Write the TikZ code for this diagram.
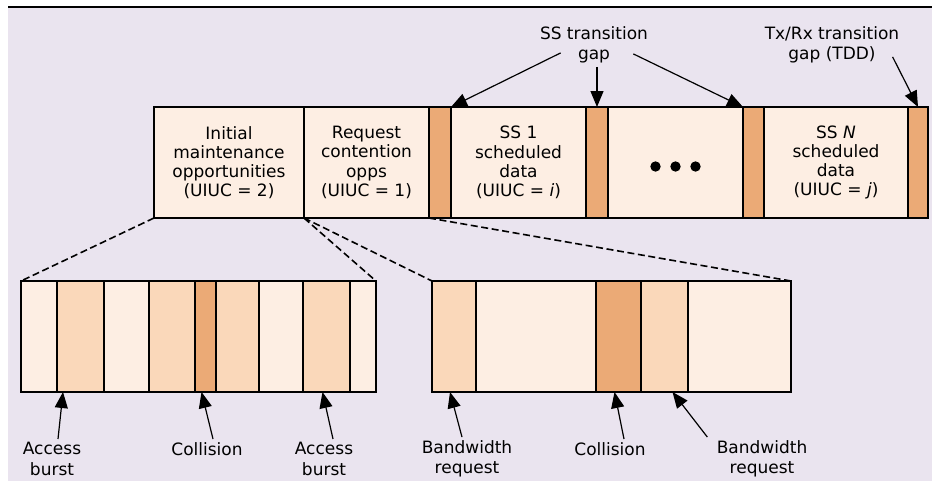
\documentclass[tikz,border=0pt]{standalone}
\usepackage{fontspec}
\setmainfont{DejaVu Sans}
\usepackage{xcolor}
\usepackage{tikz}
\usetikzlibrary{arrows.meta,positioning}

\definecolor{bgpurple}{HTML}{EAE4EF}
\definecolor{segpale}{HTML}{FDEEE3}
\definecolor{segmid}{HTML}{FAD8BA}
\definecolor{segdark}{HTML}{EBAA76}

\begin{document}
\begin{tikzpicture}[
  x=0.5pt, y=-0.5pt,
  font=\fontsize{8.5}{9.6}\selectfont,
  seg/.style={draw, line width=0.9pt, inner sep=0pt, outer sep=0pt,
              align=center, minimum height=55.5pt},
  palebox/.style={seg, fill=segpale},
  midbox/.style={seg, fill=segmid},
  darkbox/.style={seg, fill=segdark, minimum width=11pt},
  lbl/.style={align=center, inner sep=1.5pt, font=\fontsize{8.5}{10.3}\selectfont},
  arrow/.style={-{Triangle[length=8pt,width=6.5pt]}, line width=0.6pt},
  zoomline/.style={line width=0.8pt, dash pattern=on 3.5pt off 1.8pt}
]
\useasboundingbox (0,0) rectangle (932,483);
\fill[bgpurple] (8,8) rectangle (932,481);
\draw[line width=1pt] (8,7) -- (932,7);

% frame
\node[palebox, minimum width=75pt, anchor=north west] (initmaint) at (154,107)
  {Initial\\maintenance\\opportunities\\(UIUC = 2)};
\node[palebox, minimum width=62.5pt, right=0pt of initmaint] (reqopps)
  {Request\\contention\\opps\\(UIUC = 1)};
\node[darkbox, right=0pt of reqopps] (gapA) {};
\node[palebox, minimum width=67.5pt, right=0pt of gapA] (ssone)
  {SS 1\\scheduled\\data\\(UIUC = \textit{i})};
\node[darkbox, right=0pt of ssone] (gapB) {};
\node[palebox, minimum width=67.5pt, right=0pt of gapB] (dots) {};
\node[darkbox, minimum width=10.5pt, right=0pt of dots] (gapC) {};
\node[palebox, minimum width=72pt, right=0pt of gapC] (ssn)
  {SS \textit{N}\\scheduled\\data\\(UIUC = \textit{j})};
\node[darkbox, minimum width=10pt, right=0pt of ssn] (gapD) {};
\foreach \dx in {-20,0,20}
  \fill (dots.center) ++(\dx,4) circle (2.6pt);

% initial maintenance slots
\node[palebox, minimum width=18pt, anchor=north west] (ima) at (21,281) {};
\node[midbox, minimum width=23.5pt, right=0pt of ima] (imb) {};
\node[palebox, minimum width=22.5pt, right=0pt of imb] (imc) {};
\node[midbox, minimum width=23pt, right=0pt of imc] (imd) {};
\node[darkbox, minimum width=10.5pt, right=0pt of imd] (ime) {};
\node[midbox, minimum width=21.5pt, right=0pt of ime] (imf) {};
\node[palebox, minimum width=22pt, right=0pt of imf] (img) {};
\node[midbox, minimum width=23.5pt, right=0pt of img] (imh) {};
\node[palebox, minimum width=13pt, right=0pt of imh] (imi) {};

% request contention slots
\node[midbox, minimum width=22pt, anchor=north west] (rca) at (432,281) {};
\node[palebox, minimum width=60pt, right=0pt of rca] (rcb) {};
\node[darkbox, minimum width=22.5pt, right=0pt of rcb] (rcc) {};
\node[midbox, minimum width=23.5pt, right=0pt of rcc] (rcd) {};
\node[palebox, minimum width=51.5pt, right=0pt of rcd] (rce) {};

\draw[zoomline] (initmaint.south west) -- (ima.north west);
\draw[zoomline] (initmaint.south east) -- (imi.north east);
\draw[zoomline] (initmaint.south east) -- (rca.north west);
\draw[zoomline] (reqopps.south east) -- (rce.north east);

% labels
\node[lbl] (ssgap) at (594,45) {SS transition\\gap};
\node[lbl] (txrxgap) at (832,45) {Tx/Rx transition\\gap (TDD)};
\node[lbl] (burstA) at (52,459) {Access\\burst};
\node[lbl] (collA) at (207,449) {Collision};
\node[lbl] (burstB) at (324,459) {Access\\burst};
\node[lbl] (bwreqA) at (467,459) {Bandwidth\\request};
\node[lbl] (collB) at (610,449) {Collision};
\node[lbl] (bwreqB) at (762,459) {Bandwidth\\request};

\draw[arrow] ([shift={(12pt,7pt)}]ssgap.south west) -- (gapA.north east);
\draw[arrow] (ssgap.south -| gapB.north) -- (gapB.north);
\draw[arrow] ([shift={(-9pt,6.5pt)}]ssgap.south east) -- (gapC.north west);
\draw[arrow] ([shift={(-5pt,5pt)}]txrxgap.south east) -- (gapD.north);
\draw[arrow] ([xshift=3pt]burstA.north) -- ([xshift=3pt]imb.south west);
\draw[arrow] ([xshift=3pt]collA.north) -- ([xshift=-2pt]ime.south);
\draw[arrow] ([xshift=4.5pt]burstB.north) -- ([xshift=-2pt]imh.south);
\draw[arrow] ([xshift=-2.5pt]bwreqA.north) -- ([xshift=-2pt]rca.south);
\draw[arrow] ([xshift=7pt]collB.north) -- ([xshift=-2pt]rcc.south);
\draw[arrow] ([xshift=-3pt]bwreqB.north west) -- ([xshift=4pt]rcd.south);
\end{tikzpicture}
\end{document}
